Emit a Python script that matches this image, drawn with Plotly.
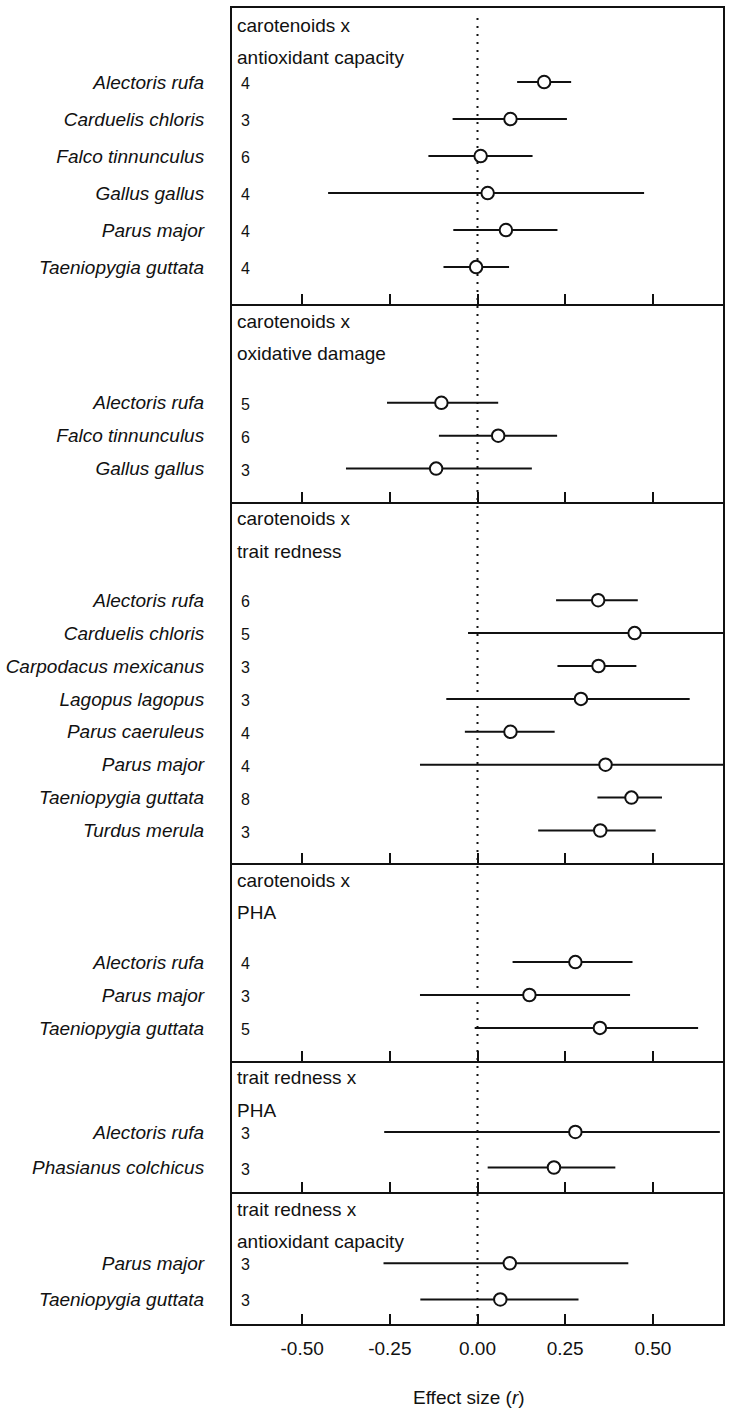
import plotly.graph_objects as go

# ---------------- data ----------------
panel_titles = [
    ("carotenoids x", "antioxidant capacity"),
    ("carotenoids x", "oxidative damage"),
    ("carotenoids x", "trait redness"),
    ("carotenoids x", "PHA"),
    ("trait redness x", "PHA"),
    ("trait redness x", "antioxidant capacity"),
]

species_1 = ["Alectoris rufa", "Carduelis chloris", "Falco tinnunculus",
             "Gallus gallus", "Parus major", "Taeniopygia guttata"]
n_1 = [4, 3, 6, 4, 4, 4]
est_1 = [0.190, 0.094, 0.009, 0.029, 0.081, -0.004]
lo_1 = [0.113, -0.071, -0.140, -0.426, -0.069, -0.097]
hi_1 = [0.267, 0.255, 0.157, 0.475, 0.228, 0.090]

species_2 = ["Alectoris rufa", "Falco tinnunculus", "Gallus gallus"]
n_2 = [5, 6, 3]
est_2 = [-0.103, 0.059, -0.118]
lo_2 = [-0.258, -0.110, -0.375]
hi_2 = [0.059, 0.227, 0.155]

species_3 = ["Alectoris rufa", "Carduelis chloris", "Carpodacus mexicanus",
             "Lagopus lagopus", "Parus caeruleus", "Parus major",
             "Taeniopygia guttata", "Turdus merula"]
n_3 = [6, 5, 3, 3, 4, 4, 8, 3]
est_3 = [0.344, 0.448, 0.345, 0.295, 0.094, 0.365, 0.439, 0.350]
lo_3 = [0.224, -0.027, 0.228, -0.089, -0.036, -0.164, 0.342, 0.173]
hi_3 = [0.457, 0.82, 0.453, 0.605, 0.220, 0.78, 0.526, 0.508]

species_4 = ["Alectoris rufa", "Parus major", "Taeniopygia guttata"]
n_4 = [4, 3, 5]
est_4 = [0.279, 0.148, 0.349]
lo_4 = [0.100, -0.164, -0.008]
hi_4 = [0.442, 0.435, 0.629]

species_5 = ["Alectoris rufa", "Phasianus colchicus"]
n_5 = [3, 3]
est_5 = [0.279, 0.218]
lo_5 = [-0.266, 0.029]
hi_5 = [0.691, 0.393]

species_6 = ["Parus major", "Taeniopygia guttata"]
n_6 = [3, 3]
est_6 = [0.092, 0.065]
lo_6 = [-0.268, -0.163]
hi_6 = [0.430, 0.288]

x_tick_vals = [-0.50, -0.25, 0.00, 0.25, 0.50]
x_tick_labels = ["-0.50", "-0.25", "0.00", "0.25", "0.50"]
x_title = "Effect size (<i>r</i>)"

panels = [
    (species_1, n_1, est_1, lo_1, hi_1),
    (species_2, n_2, est_2, lo_2, hi_2),
    (species_3, n_3, est_3, lo_3, hi_3),
    (species_4, n_4, est_4, lo_4, hi_4),
    (species_5, n_5, est_5, lo_5, hi_5),
    (species_6, n_6, est_6, lo_6, hi_6),
]

# ---------------- layout settings ----------------
W, H = 732, 1413
FONT = "Liberation Sans, Arial, sans-serif"
INK = "#111111"
domains = [[0.775, 1.0], [0.625, 0.775], [0.35, 0.625],
           [0.2, 0.35], [0.1, 0.2], [0.0, 0.1]]
y_ranges = [[6, -2], [3, -3], [8, -3], [3, -3], [1.7, -2], [1.68, -1.96]]

fig = go.Figure()
layout = dict(
    width=W, height=H,
    margin=dict(l=228, r=9, t=6, b=89),
    paper_bgcolor="white", plot_bgcolor="white",
    showlegend=False,
    font=dict(family=FONT, size=19, color=INK),
)
annotations = []

for k, (species, ns, est, lo, hi) in enumerate(panels, start=1):
    xa = "x" if k == 1 else f"x{k}"
    ya = "y" if k == 1 else f"y{k}"
    rows = list(range(len(species)))
    fig.add_trace(go.Scatter(
        x=est, y=rows, xaxis=xa, yaxis=ya, mode="markers",
        marker=dict(symbol="circle", size=12.5, color="white",
                    line=dict(color=INK, width=2)),
        error_x=dict(type="data", symmetric=False,
                     array=[h - e for h, e in zip(hi, est)],
                     arrayminus=[e - l for e, l in zip(est, lo)],
                     thickness=2, width=0, color=INK),
        hoverinfo="skip",
    ))
    last = (k == len(panels))
    layout[f"xaxis{'' if k == 1 else k}"] = dict(
        domain=[0, 1], anchor=ya, range=[-0.7, 0.7],
        tickmode="array", tickvals=x_tick_vals, ticktext=x_tick_labels,
        showticklabels=last, ticks="inside", ticklen=10, tickwidth=2,
        tickcolor=INK, showline=True, mirror=(k == 1), linewidth=2,
        linecolor=INK, showgrid=False, zeroline=False,
        tickfont=dict(family=FONT, size=19, color=INK),
        ticklabelstandoff=6,
        fixedrange=True,
    )
    layout[f"yaxis{'' if k == 1 else k}"] = dict(
        domain=domains[k - 1], anchor=xa, range=y_ranges[k - 1],
        tickmode="array", tickvals=rows, ticktext=species,
        ticks="outside", ticklen=22, tickcolor="rgba(0,0,0,0)",
        showline=True, mirror=True, linewidth=2, linecolor=INK,
        showgrid=False, zeroline=False,
        tickfont=dict(family=FONT, size=19, color=INK, style="italic"),
        fixedrange=True,
    )
    t1, t2 = panel_titles[k - 1]
    for txt, shift in ((t1, -17), (t2, -49.5)):
        annotations.append(dict(
            text=txt, xref=f"{xa} domain", yref=f"{ya} domain",
            x=0, y=1, xanchor="left", yanchor="middle",
            xshift=3, yshift=shift, showarrow=False,
            font=dict(family=FONT, size=19, color=INK)))
    for r, nval in zip(rows, ns):
        annotations.append(dict(
            text=str(nval), xref=f"{xa} domain", yref=ya,
            x=0, y=r, xanchor="left", yanchor="middle",
            xshift=7, yshift=-1.5, showarrow=False,
            font=dict(family=FONT, size=16, color=INK)))

annotations.append(dict(
    text=x_title, xref="paper", yref="paper",
    x=(467 - 228) / 495, y=(1324 - 1398) / 1318,
    xanchor="center", yanchor="middle", showarrow=False,
    font=dict(family=FONT, size=19, color=INK)))

layout["annotations"] = annotations
layout["shapes"] = [dict(
    type="line", xref="x", yref="paper", x0=0, x1=0, y0=0, y1=0.996,
    line=dict(color=INK, width=2, dash="2px,6px"), layer="below")]

fig.update_layout(**layout)
fig.write_html(
    "out.html",
    config={"displayModeBar": False, "staticPlot": True},
    post_script="document.body.style.margin='0';document.body.style.padding='0';",
)
